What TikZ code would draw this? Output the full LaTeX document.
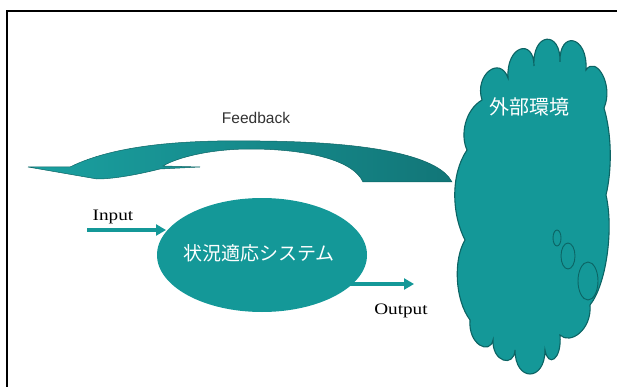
\documentclass[tikz,border=0pt]{standalone}
\usepackage{fontspec}
\newfontfamily\cjkfont{Noto Sans CJK JP}
\newfontfamily\arialfont{Liberation Sans}
\newfontfamily\tnrfont[FakeStretch=1.2]{Liberation Serif}
\usetikzlibrary{shapes.geometric,arrows.meta}
\definecolor{tealmain}{RGB}{20,152,152}
\definecolor{tealdark}{RGB}{12,100,100}
\definecolor{fbleft}{RGB}{26,160,160}
\definecolor{fbright}{RGB}{18,118,120}
\definecolor{txtgray}{RGB}{50,50,50}
\tikzset{
  flowarrow/.style={draw=tealmain, line width=3.5pt, -{Triangle[length=10pt,width=11pt]}},
  serifl/.style={font=\tnrfont\fontsize{16}{16}\selectfont, text=black, inner sep=0pt},
  cjkw/.style={font=\cjkfont\fontsize{#1}{#1}\selectfont, text=white, inner sep=0pt},
}
\begin{document}
\begin{tikzpicture}[x=1pt,y=-1pt]
\useasboundingbox (0,0) rectangle (617,387);
% frame
\draw[line width=2.5pt] (7,387) -- (7,11) -- (617,11);
% cloud
\draw[fill=tealmain, draw=tealdark, line width=1.1pt]
  (482,100) .. controls (474,75) and (500,55) .. (508,78)
  .. controls (506,45) and (534,38) .. (534,66)
  .. controls (532,32) and (561,30) .. (560,62)
  .. controls (559,30) and (588,35) .. (586,70)
  .. controls (596,55) and (614,85) .. (604,108)
  .. controls (612,135) and (612,170) .. (606,195)
  .. controls (614,230) and (606,285) .. (590,305)
  .. controls (592,330) and (570,345) .. (560,335)
  .. controls (562,360) and (548,368) .. (545,350)
  .. controls (545,382) and (515,382) .. (515,350)
  .. controls (514,368) and (492,362) .. (493,340)
  .. controls (490,355) and (468,345) .. (470,320)
  .. controls (455,300) and (453,260) .. (465,240)
  .. controls (452,215) and (450,175) .. (467,150)
  .. controls (460,135) and (465,110) .. (482,100) -- cycle;
\draw[draw=tealdark, line width=0.9pt, fill=tealmain] (557,238) ellipse [x radius=4, y radius=8];
\draw[draw=tealdark, line width=0.9pt, fill=tealmain] (568,256) ellipse [x radius=7, y radius=13];
\draw[draw=tealdark, line width=0.9pt, fill=tealmain] (588,281) ellipse [x radius=10, y radius=19];
\node[cjkw=20] (env) at (529,107) {外部環境};
% feedback arrow
\path[left color=fbleft, right color=fbright, draw=tealdark, line width=0.5pt]
  (28,167) -- (70,167)
  .. controls (120,142) and (200,140) .. (260,141)
  .. controls (380,142) and (440,158) .. (452,182)
  -- (363,182)
  .. controls (352,158) and (300,149) .. (250,149)
  .. controls (212,149) and (178,157) .. (163,166)
  -- (200,167) -- (160,169)
  .. controls (140,174) and (115,179) .. (97,179)
  -- cycle;
\node[font=\arialfont\fontsize{15.5}{15.5}\selectfont, text=txtgray, inner sep=0pt] (fb) at (256,118) {Feedback};
% system
\node[ellipse, fill=tealmain, minimum width=210pt, minimum height=114pt, inner sep=0pt] (sys) at (262,255) {};
\node[cjkw=19] (syst) at (259,253) {状況適応システム};
% input / output
\coordinate (inS) at (87,230);
\coordinate (inE) at (166,230);
\draw[flowarrow] (inS) -- (inE);
\node[serifl, anchor=base] (inL) at (113,220) {Input};
\coordinate (outS) at (345,284);
\coordinate (outE) at (414,284);
\draw[flowarrow] (outS) -- (outE);
\node[serifl, anchor=base] (outL) at (401,314) {Output};
\end{tikzpicture}
\end{document}
